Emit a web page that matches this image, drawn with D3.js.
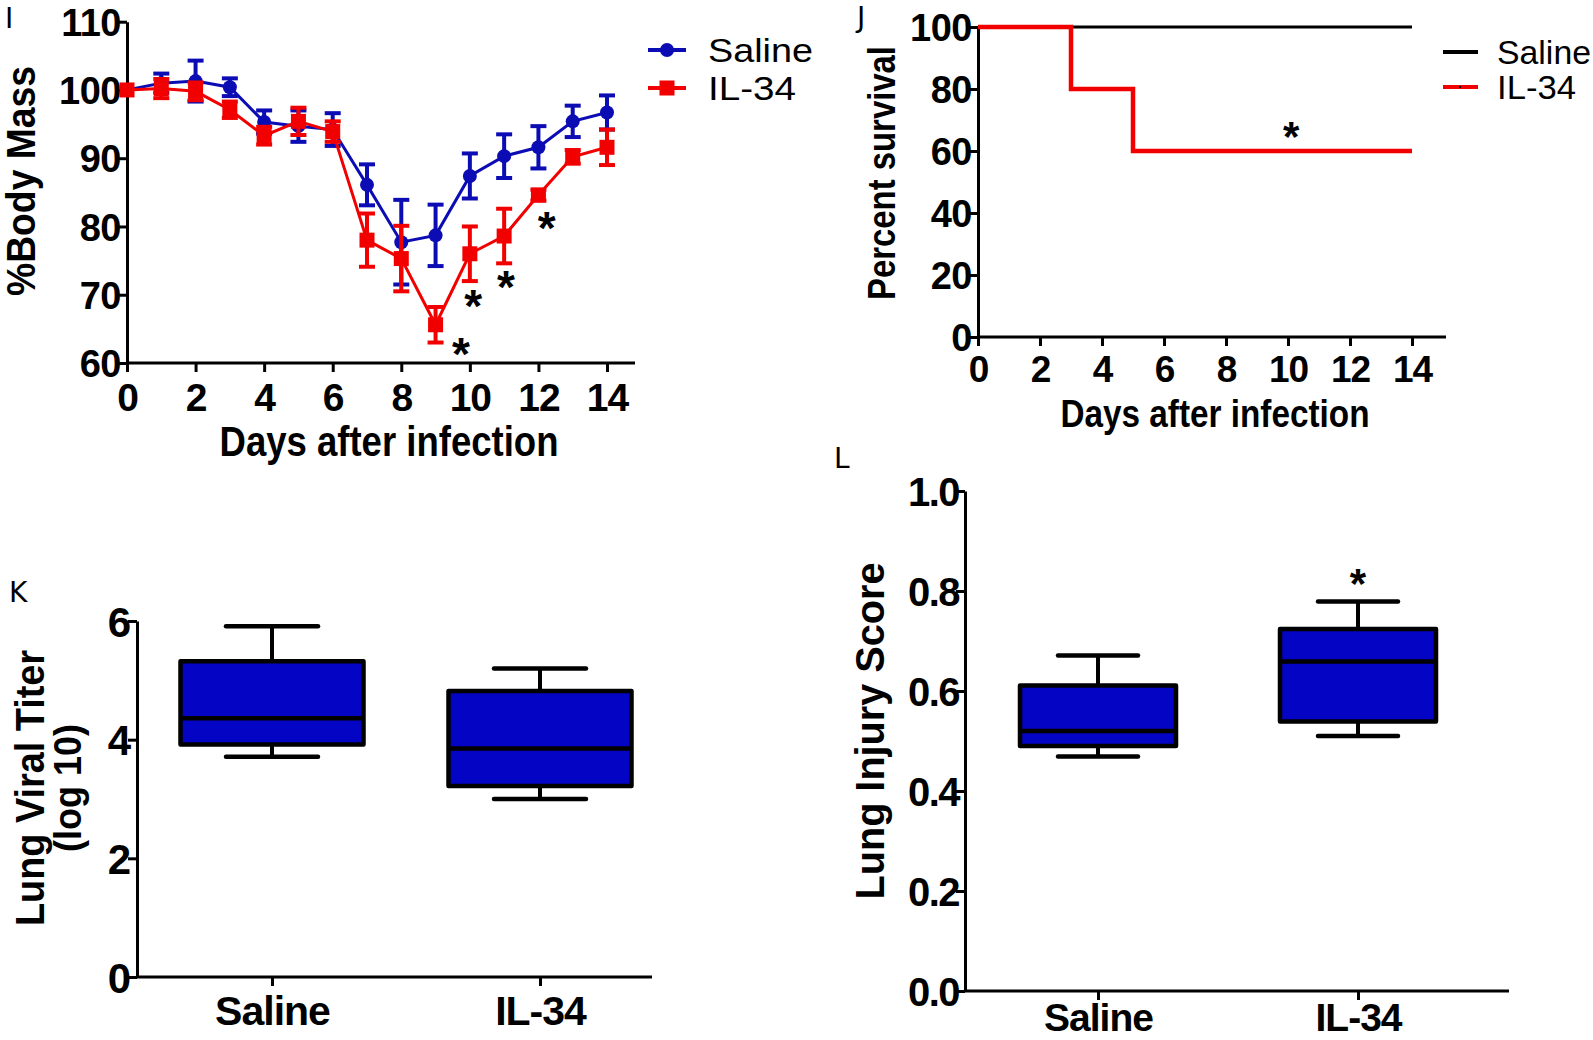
<!DOCTYPE html>
<html><head><meta charset="utf-8">
<script src="https://cdn.jsdelivr.net/npm/d3@7"></script>
<style>
body{margin:0;background:#fff}
svg{display:block}
text{font-family:"Liberation Sans",Arial,sans-serif}
</style>
</head><body>
<svg id="c" width="1593" height="1040"></svg>
<script>
// ---------- DATA ----------
const days = [0,1,2,3,4,5,6,7,8,9,10,11,12,13,14];
const salineMass    = [100,101,101.3,100.4,95.3,94.7,94.2,86.1,77.7,78.7,87.4,90.3,91.6,95.4,96.7];
const salineMassErr = [0,1.4,3,1.3,1.7,2.3,2.4,3,6.2,4.5,3.3,3.2,3.1,2.3,2.5];
const il34Mass      = [100,100.2,99.8,97.1,93.3,95.4,93.9,78,75.3,65.6,76,78.6,84.6,90.2,91.6];
const il34MassErr   = [0,1.4,1.3,1.2,1.3,2,1.5,3.9,4.8,2.6,4,4,0.8,1,2.6];
const massStars     = [[9.74,62.5],[10.1,69.5],[11.05,72.3],[12.24,80.9]];
const massTicksY = [60,70,80,90,100,110];
const dayTicks = [0,2,4,6,8,10,12,14];

const survDays       = [0,3,5,14];
const salineSurvival = [100,100,100,100];
const il34Survival   = [100,80,60,60];
const survStar = [10.1,67];
const survTicksY = [0,20,40,60,80,100];

const groups = ["Saline","IL-34"];
const titerMin = [3.71,3.0], titerQ1 = [3.92,3.22], titerMed = [4.36,3.85], titerQ3 = [5.32,4.82], titerMax = [5.91,5.2];
const titerTicks = [0,2,4,6];
const injMin = [0.469,0.510], injQ1 = [0.490,0.539], injMed = [0.520,0.659], injQ3 = [0.611,0.724], injMax = [0.671,0.779];
const injTicks = [0,0.2,0.4,0.6,0.8,1.0];
const injStar = ["IL-34",0.83];

// ---------- STYLE ----------
const BLUE = "#0c0cb4", RED = "#f20000", BOXFILL = "#0404c4";
const svg = d3.select("#c");

function yAxis(g, scale, ticks, fmt, fs, ls){
  const ax = d3.axisLeft(scale).tickValues(ticks).tickSize(9).tickSizeOuter(0).tickFormat(fmt);
  g.call(ax);
  g.select(".domain").attr("stroke","#000").attr("stroke-width",3);
  g.selectAll(".tick line").attr("stroke","#000").attr("stroke-width",3);
  g.selectAll(".tick text").attr("x",-6).attr("dy","0.36em")
    .attr("font-size",fs).attr("font-weight","bold").attr("fill","#000")
    .attr("letter-spacing",(ls==null?-1.5:ls)+"px").attr("font-family","Liberation Sans, Arial, sans-serif");
}
function xAxis(g, scale, ticks, fmt, fs, off, x0, x1){
  const ax = d3.axisBottom(scale).tickValues(ticks).tickSize(9).tickSizeOuter(0).tickFormat(fmt);
  g.call(ax);
  g.select(".domain").remove();
  g.append("line").attr("x1",x0).attr("x2",x1).attr("y1",0).attr("y2",0)
    .attr("stroke","#000").attr("stroke-width",3);
  g.selectAll(".tick line").attr("stroke","#000").attr("stroke-width",3);
  g.selectAll(".tick text").attr("y",off).attr("dy","0.72em")
    .attr("font-size",fs).attr("font-weight","bold").attr("fill","#000")
    .attr("letter-spacing","-1px").attr("font-family","Liberation Sans, Arial, sans-serif");
}
function label(x,y,txt,fs,len,rot){
  const t = svg.append("text").attr("transform",`translate(${x},${y})${rot?" rotate(-90)":""}`)
    .attr("text-anchor","middle").attr("font-size",fs).attr("font-weight","bold")
    .attr("fill","#000").text(txt);
  if(len) t.attr("textLength",len).attr("lengthAdjust","spacingAndGlyphs");
  return t;
}
function panelLetter(x,y,txt){
  svg.append("text").attr("x",x).attr("y",y).attr("font-size",28)
    .style("font-family","'DejaVu Sans',sans-serif").attr("fill","#000").text(txt);
}
function star(x,y,fs){
  svg.append("text").attr("x",x).attr("y",y+fs*0.52).attr("text-anchor","middle")
    .attr("font-size",fs).attr("font-weight","bold").attr("fill","#000").text("*");
}
function legendText(g,x,y,txt,len){
  g.append("text").attr("x",x).attr("y",y).attr("font-size",34).attr("fill","#000")
    .attr("textLength",len).attr("lengthAdjust","spacingAndGlyphs").text(txt);
}

// ---------- PANEL I ----------
{
  const x = d3.scaleLinear().domain([0,14]).range([127,607]);
  const y = d3.scaleLinear().domain([60,110]).range([363,21.7]);
  yAxis(svg.append("g").attr("transform","translate(127,0)"), y, massTicksY, d3.format("d"), 38, -0.5);
  xAxis(svg.append("g").attr("transform","translate(0,363)"), x, dayTicks, d3.format("d"), 39, 20, 127, 635);

  const series = [
    {v:salineMass, e:salineMassErr, c:BLUE, m:"circle"},
    {v:il34Mass, e:il34MassErr, c:RED, m:"square"}
  ];
  const line = d3.line().x((d,i)=>x(days[i])).y(d=>y(d));
  series.forEach(s=>{
    const g = svg.append("g");
    g.append("path").attr("d",line(s.v)).attr("fill","none").attr("stroke",s.c).attr("stroke-width",3);
    days.forEach((d,i)=>{
      if(s.e[i]>0){
        const cx=x(d), t=y(s.v[i]+s.e[i]), b=y(s.v[i]-s.e[i]);
        g.append("line").attr("x1",cx).attr("x2",cx).attr("y1",t).attr("y2",b).attr("stroke",s.c).attr("stroke-width",4);
        [t,b].forEach(yy=>g.append("line").attr("x1",cx-8).attr("x2",cx+8).attr("y1",yy).attr("y2",yy)
          .attr("stroke",s.c).attr("stroke-width",4));
      }
      if(s.m==="circle") g.append("circle").attr("cx",x(d)).attr("cy",y(s.v[i])).attr("r",7).attr("fill",s.c);
      else g.append("rect").attr("x",x(d)-7.5).attr("y",y(s.v[i])-7.5).attr("width",15).attr("height",15).attr("fill",s.c);
    });
  });
  massStars.forEach(p=>star(x(p[0]),y(p[1]),46));

  // legend
  const lg = svg.append("g");
  [[BLUE,"circle","Saline",50,105],[RED,"square","IL-34",88,88]].forEach(([c,m,t,yy,len])=>{
    lg.append("line").attr("x1",648).attr("x2",686).attr("y1",yy).attr("y2",yy).attr("stroke",c).attr("stroke-width",4);
    if(m==="circle") lg.append("circle").attr("cx",667).attr("cy",yy).attr("r",7).attr("fill",c);
    else lg.append("rect").attr("x",659.5).attr("y",yy-7.5).attr("width",15).attr("height",15).attr("fill",c);
    legendText(lg,708,yy+12,t,len);
  });
  label(389,456,"Days after infection",42,339,false);
  label(35,181,"%Body Mass",40,230,true);
  panelLetter(5,28,"I");
}

// ---------- PANEL J ----------
{
  const x = d3.scaleLinear().domain([0,14]).range([978,1412]);
  const y = d3.scaleLinear().domain([0,100]).range([337,27]);
  yAxis(svg.append("g").attr("transform","translate(978,0)"), y, survTicksY, d3.format("d"), 38, -0.5);
  xAxis(svg.append("g").attr("transform","translate(0,337)"), x, dayTicks, d3.format("d"), 37, 18, 978, 1446);
  const line = d3.line().x((d,i)=>x(survDays[i])).y(d=>y(d)).curve(d3.curveStepAfter);
  svg.append("path").attr("d",line(salineSurvival)).attr("fill","none").attr("stroke","#000").attr("stroke-width",3);
  svg.append("path").attr("d",line(il34Survival)).attr("fill","none").attr("stroke",RED).attr("stroke-width",4.5);
  star(x(survStar[0]),y(survStar[1]),42);
  const lg = svg.append("g");
  [["#000","Saline",52,94],[RED,"IL-34",87,79]].forEach(([c,t,yy,len])=>{
    lg.append("line").attr("x1",1443).attr("x2",1478).attr("y1",yy).attr("y2",yy).attr("stroke",c).attr("stroke-width",4);
    legendText(lg,1497,yy+12,t,len);
  });
  lg.append("rect").attr("x",1459).attr("y",86).attr("width",2).attr("height",2).attr("fill","#000");
  label(1215,427,"Days after infection",38,309,false);
  label(895,173,"Percent survival",39,254,true);
  panelLetter(857,27,"J");
}

// ---------- BOX PLOT HELPER ----------
function boxes(xs, y, mn, q1, md, q3, mx, bw, cw){
  groups.forEach((gname,i)=>{
    const cx = xs(gname);
    const g = svg.append("g");
    g.append("line").attr("x1",cx).attr("x2",cx).attr("y1",y(mx[i])).attr("y2",y(q3[i])).attr("stroke","#000").attr("stroke-width",4);
    g.append("line").attr("x1",cx).attr("x2",cx).attr("y1",y(q1[i])).attr("y2",y(mn[i])).attr("stroke","#000").attr("stroke-width",4);
    [mx[i],mn[i]].forEach(v=>g.append("line").attr("x1",cx-cw).attr("x2",cx+cw).attr("y1",y(v)).attr("y2",y(v))
      .attr("stroke","#000").attr("stroke-width",4.5).attr("stroke-linecap","round"));
    g.append("rect").attr("x",cx-bw/2).attr("y",y(q3[i])).attr("width",bw).attr("height",y(q1[i])-y(q3[i]))
      .attr("fill",BOXFILL).attr("stroke","#000").attr("stroke-width",4.5).attr("stroke-linejoin","round");
    g.append("line").attr("x1",cx-bw/2).attr("x2",cx+bw/2).attr("y1",y(md[i])).attr("y2",y(md[i])).attr("stroke","#000").attr("stroke-width",4.5);
  });
}

// ---------- PANEL K ----------
{
  const x = d3.scalePoint().domain(groups).range([272,540]);
  const y = d3.scaleLinear().domain([0,6]).range([977,621]);
  yAxis(svg.append("g").attr("transform","translate(137,0)"), y, titerTicks, d3.format("d"), 42, 0);
  xAxis(svg.append("g").attr("transform","translate(0,977)"), x, groups, d=>d, 41, 18, 137, 652);
  boxes(x, y, titerMin, titerQ1, titerMed, titerQ3, titerMax, 183, 46);
  label(44,788,"Lung Viral Titer",40,276,true);
  label(81,788,"(log 10)",39,128,true);
  panelLetter(9,602,"K");
}

// ---------- PANEL L ----------
{
  const x = d3.scalePoint().domain(groups).range([1098,1358]);
  const y = d3.scaleLinear().domain([0,1]).range([991,491]);
  yAxis(svg.append("g").attr("transform","translate(965,0)"), y, injTicks, d3.format(".1f"), 40);
  xAxis(svg.append("g").attr("transform","translate(0,991)"), x, groups, d=>d, 39, 12, 965, 1509);
  boxes(x, y, injMin, injQ1, injMed, injQ3, injMax, 156, 40);
  star(x(injStar[0]), y(injStar[1]), 42);
  label(884,731,"Lung Injury Score",40,337,true);
  panelLetter(834,468,"L");
}
</script>
</body></html>
